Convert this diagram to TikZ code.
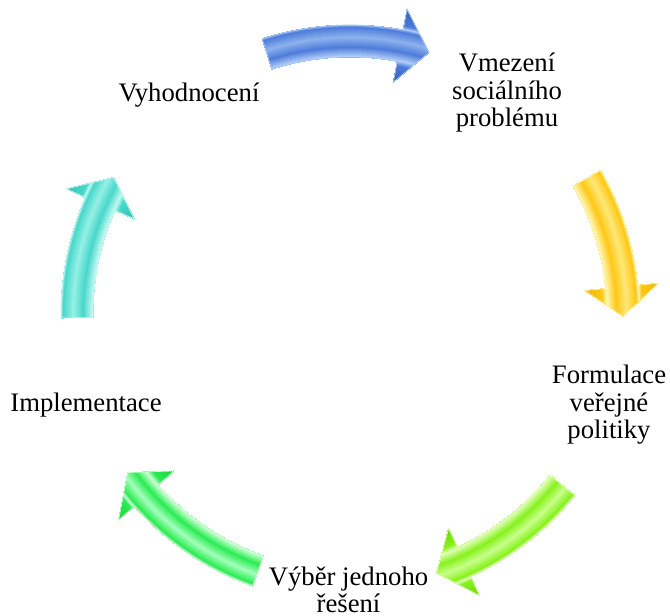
\documentclass[tikz,border=0pt]{standalone}
\usepackage{fontspec}
\setmainfont{Liberation Serif}
% colours
\definecolor{bD}{RGB}{50,92,190}\definecolor{bM}{RGB}{78,124,218}\definecolor{bL}{RGB}{140,178,238}\definecolor{bE}{RGB}{175,205,248}
\definecolor{yD}{RGB}{242,178,0}\definecolor{yM}{RGB}{255,200,22}\definecolor{yL}{RGB}{255,232,120}\definecolor{yE}{RGB}{255,246,175}
\definecolor{lD}{RGB}{110,215,0}\definecolor{lM}{RGB}{135,242,28}\definecolor{lL}{RGB}{200,255,140}\definecolor{lE}{RGB}{225,255,185}
\definecolor{gD}{RGB}{28,210,62}\definecolor{gM}{RGB}{42,236,82}\definecolor{gL}{RGB}{165,255,188}\definecolor{gE}{RGB}{205,255,215}
\definecolor{tD}{RGB}{48,195,184}\definecolor{tM}{RGB}{72,216,202}\definecolor{tL}{RGB}{150,240,230}\definecolor{tE}{RGB}{195,248,242}
\def\ro{289}\def\ri{257}\def\rH{310}\def\rh{236}\def\rr{273}\def\hl{6.2}
% concentric ring gradient (drawn inside a clip, centred at the cycle centre)
\newcommand\ringfill[1]{%
  \fill[#1D] (0,0) circle[radius=312];
  \foreach \ra/\rb/\ca/\cb in {312/292/D/M, 292/289/M/E, 289/286/E/M, 286/276/M/L, 276/266/L/M, 266/257/M/E, 257/252/E/M, 252/236/M/D}{%
    \pgfmathtruncatemacro\nn{\ra-\rb}%
    \foreach \i in {1,...,\nn}{%
      \pgfmathsetmacro\mixp{100*\i/\nn}%
      \pgfmathsetmacro\rc{\ra-\i+1}%
      \edef\colspec{#1\cb!\mixp!#1\ca}%
      \colorlet{tmpring}{\colspec}%
      \fill[tmpring] (0,0) circle[radius=\rc];
    }}}
\newcommand\cycarrow[2]{% #1 tail angle, #2 tip angle, then colour prefix
  \pgfmathsetmacro\hb{#2+\hl}%
  \cycarrowii{#1}{#2}}
\newcommand\cycarrowii[3]{%
  \begin{scope}[shift={(350,302)}]
    \begin{scope}
      \clip (#1:\ro) arc[start angle=#1, end angle=\hb, radius=\ro] -- (\hb:\rH) -- (#2:\rr) -- (\hb:\rh) -- (\hb:\ri) arc[start angle=\hb, end angle=#1, radius=\ri] -- cycle;
      \ringfill{#3}
    \end{scope}
    \draw[arrowedge=#3E] (#1:\ro) arc[start angle=#1, end angle=\hb, radius=\ro] -- (\hb:\rH) -- (#2:\rr) -- (\hb:\rh) -- (\hb:\ri) arc[start angle=\hb, end angle=#1, radius=\ri] -- cycle;
  \end{scope}}
\tikzset{
  arrowedge/.style={draw=#1, line width=0.7pt, line join=miter},
  label/.style={font=\fontsize{26.7}{27.5}\selectfont, align=center, inner sep=0pt, text=black}
}
\begin{document}
\begin{tikzpicture}[x=1pt,y=1pt]
  \useasboundingbox[fill=white] (0,0) rectangle (670,616);
  % arrows (clockwise cycle)
  \cycarrow{107.7}{73.2}{b}
  \cycarrow{29.8}{-0.5}{y}
  \cycarrow{-38.9}{-71.5}{l}
  \cycarrow{-109.7}{-144.5}{g}
  \cycarrow{180.8}{150.0}{t}
  % texts
  \node[label] (vmez) at (507,523) {Vmezení\\sociálního\\problému};
  \node[label] (form) at (609,211) {Formulace\\veřejné\\politiky};
  \node[label] (vyber) at (348.5,26) {Výběr jednoho\\řešení};
  \node[label] (impl) at (86,211) {Implementace};
  \node[label] (vyhod) at (189,521) {Vyhodnocení};
\end{tikzpicture}
\end{document}
